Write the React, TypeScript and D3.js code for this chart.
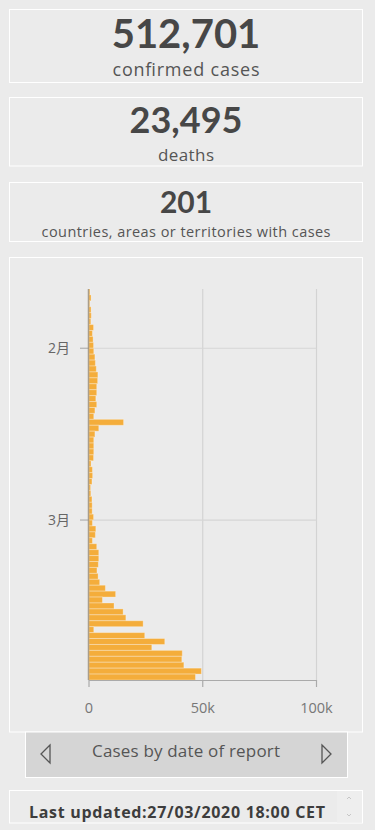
import React from 'react';
import * as d3 from 'd3';

// daily cases by date of report, starting 22 Jan 2020
const startDate = '2020-01-22';
const dailyCases = [
  400, 900, 300, 900, 1000, 800, 2000, 1500, 1800, 2000,
  2100, 2600, 2800, 3200, 3900, 3800, 3400, 3400, 3000, 3400,
  2600, 2100, 15200, 4300, 2600, 2100, 2100, 2100, 2000, 900,
  1500, 1600, 1300, 700, 800, 1300, 1400, 1400, 2000, 1500,
  3000, 2800, 1500, 3400, 4300, 4300, 4100, 3500, 4000, 4700,
  7200, 11700, 5900, 11000, 15000, 16200, 23800, 2100, 24500, 33300,
  27600, 41000, 40800, 41700, 49400, 46800
];
const xTicks = [0, 50000, 100000];
const xTickLabels = ['0', '50k', '100k'];
const monthTicks = ['2020-02-01', '2020-03-01'];
const monthLabels = ['2月', '3月'];

const statValues = ['512,701', '23,495', '201'];
const statLabels = ['confirmed cases', 'deaths', 'countries, areas or territories with cases'];

const parse = d3.timeParse('%Y-%m-%d');

const App = () => {
  const width = 375;
  const height = 830;
  const bg = '#ebebeb';
  const textDark = '#474747';
  const barColor = '#f4ad3b';
  const numFont = "Lato, sans-serif";
  const font = "'Open Sans', 'Noto Sans CJK JP', sans-serif";

  const start = parse(startDate) as Date;
  const days = dailyCases.map((v, i) => ({ date: d3.timeDay.offset(start, i), value: v }));
  const end = d3.timeDay.offset(start, dailyCases.length);

  const x = d3.scaleLinear().domain([0, 100000]).range([89, 316.5]);
  const y = d3.scaleTime().domain([start, end]).range([289, 680]);

  const boxes = [
    { y0: 9.5, y1: 82.5, num: 40, numY: 48, lab: 18, labY: 76, len: 147 },
    { y0: 97.5, y1: 166, num: 36, numY: 133, lab: 17, labY: 160.5, len: 56 },
    { y0: 182.5, y1: 241.5, num: 30, numY: 213, lab: 14.5, labY: 236.5, len: 289 }
  ];

  return (
    <div style={{ position: 'absolute', left: 0, top: 0 }}>
      <svg width={width} height={height} style={{ display: 'block', background: bg }}>
        <rect x={0} y={0} width={width} height={height} fill={bg} />
        {boxes.map((b, i) => (
          <g key={i}>
            <rect x={9.5} y={b.y0} width={353} height={b.y1 - b.y0} fill="none" stroke="#fff" strokeWidth={1} />
            <text x={186} y={b.numY} textAnchor="middle" fontFamily={numFont} fontWeight={700}
                  fontSize={b.num} fill={textDark}>{statValues[i]}</text>
            <text x={186} y={b.labY} textAnchor="middle" fontFamily={font} textLength={b.len}
                  lengthAdjust="spacing" fontSize={b.lab} fill="#555">{statLabels[i]}</text>
          </g>
        ))}

        {/* chart panel */}
        <rect x={9.5} y={257.5} width={353} height={474.5} fill="none" stroke="#fff" strokeWidth={1} />

        {/* grid */}
        {xTicks.slice(1).map(t => (
          <line key={t} x1={x(t)} x2={x(t)} y1={289} y2={680} stroke="#d3d3d3" strokeWidth={1.2} />
        ))}
        {monthTicks.map((m, i) => {
          const yy = y(parse(m) as Date);
          return (
            <g key={m}>
              <line x1={89} x2={x(100000)} y1={yy} y2={yy} stroke="#d6d6d6" strokeWidth={1.2} />
              <line x1={80} x2={89} y1={yy} y2={yy} stroke="#b0b0b0" strokeWidth={1.2} />
              <text x={70} y={yy} dy="0.35em" textAnchor="end" fontFamily={font} fontSize={14}
                    fill="#666">{monthLabels[i]}</text>
            </g>
          );
        })}

        {/* bars */}
        {days.map((d, i) => {
          const y0 = y(d.date);
          const y1 = y(d3.timeDay.offset(d.date, 1));
          return (
            <rect key={i} x={x(0)} y={y0} width={Math.max(0.5, x(d.value) - x(0))} height={y1 - y0}
                  fill={barColor} stroke="#fff" strokeOpacity={0.3} strokeWidth={1} />
          );
        })}

        {/* axes */}
        <line x1={88.5} x2={88.5} y1={289} y2={680} stroke="#9a8a70" strokeWidth={1.5} opacity={0.8} />
        <line x1={x(0)} x2={x(100000)} y1={680.5} y2={680.5} stroke="#aaa" strokeWidth={1.2} />
        {xTicks.map((t, i) => (
          <g key={t}>
            <line x1={x(t)} x2={x(t)} y1={680} y2={687} stroke="#aaa" strokeWidth={1.2} />
            <text x={x(t)} y={713} textAnchor="middle" fontFamily={font} fontSize={14.5}
                  fill="#777">{xTickLabels[i]}</text>
          </g>
        ))}

        {/* selector bar */}
        <rect x={25.5} y={732} width={322} height={45.5} fill="#d5d5d5" stroke="#fff" strokeWidth={1} />
        <path d="M50,745 L41,754 L50,763 Z" fill="none" stroke="#555" strokeWidth={1.3} />
        <path d="M322,745 L331,754 L322,763 Z" fill="none" stroke="#555" strokeWidth={1.3} />
        <text x={186} y={757} textAnchor="middle" fontFamily={font} fontSize={17} fill="#555"
              textLength={188} lengthAdjust="spacing">
          Cases by date of report
        </text>

        {/* last updated */}
        <rect x={9.5} y={790.5} width={353} height={32.5} fill="none" stroke="#fff" strokeWidth={1} />
        <rect x={337} y={791} width={25} height={31.5} fill="#eeeeee" />
        <path d="M347,799 L349,797 L351,799" fill="none" stroke="#bbb" strokeWidth={0.8} />
        <path d="M347,814 L349,816 L351,814" fill="none" stroke="#bbb" strokeWidth={0.8} />
        <text x={177} y={818} textAnchor="middle" fontFamily={font} fontWeight={700} fontSize={16}
              fill="#3d3d3d" textLength={296} lengthAdjust="spacing">Last updated:27/03/2020 18:00 CET</text>
      </svg>
    </div>
  );
};

export default App;
